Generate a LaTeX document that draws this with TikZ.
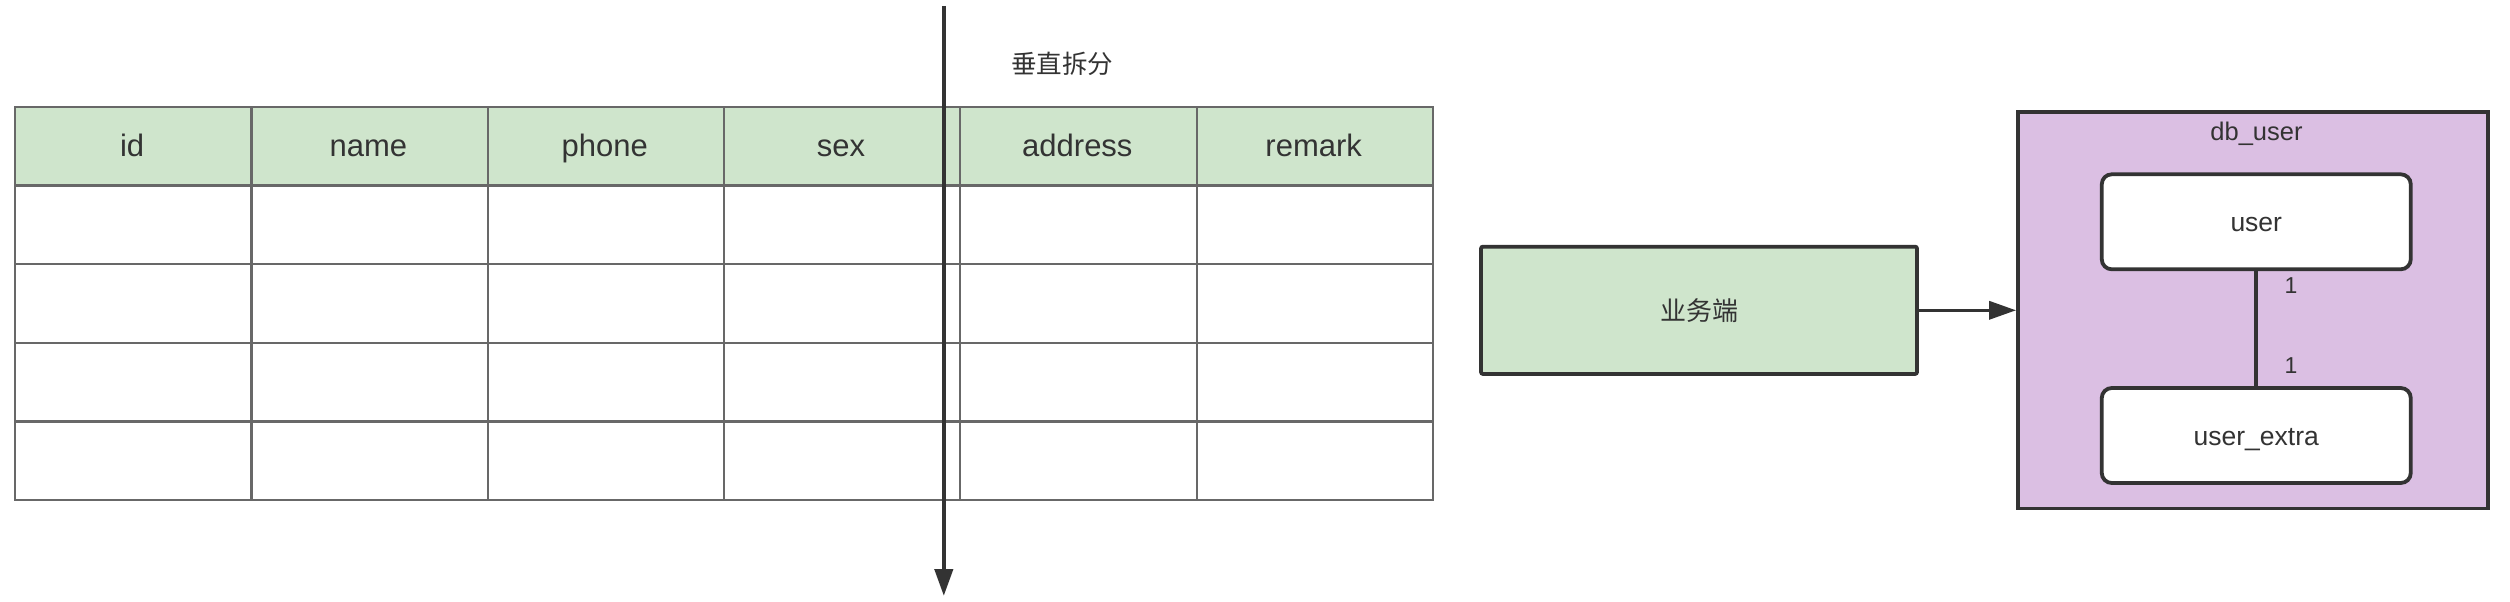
\documentclass[tikz,border=0pt]{standalone}
\usepackage{fontspec}
\setmainfont{Liberation Sans}
\newfontfamily\cjk{Noto Sans CJK SC}
\usetikzlibrary{arrows.meta}
\definecolor{hdrgreen}{HTML}{CFE5CC}
\definecolor{dbpurple}{HTML}{DBBFE3}
\definecolor{ink}{HTML}{333333}
\definecolor{grid}{HTML}{686868}
\tikzset{
  cellbox/.style={draw=grid, line width=2.2pt, minimum width=236.3pt, minimum height=78.66pt, inner sep=0pt, anchor=north west},
  hdrbox/.style={cellbox, fill=hdrgreen},
  bizbox/.style={draw=ink, line width=3.8pt, fill=hdrgreen, rounded corners=2pt, minimum width=436pt, minimum height=127.3pt, inner sep=0pt, text=ink, font=\fontsize{26}{30}\selectfont\cjk},
  dbbox/.style={draw=ink, line width=3.8pt, fill=dbpurple, minimum width=470pt, minimum height=396.5pt, inner sep=0pt},
  tblbox/.style={draw=ink, line width=3.8pt, fill=white, rounded corners=10pt, minimum width=309pt, minimum height=95pt, inner sep=0pt, text=ink, font=\fontsize{26.5}{30}\selectfont, text height=19pt, text depth=0pt},
  lbl/.style={text=ink, inner sep=0pt},
  conn/.style={draw=ink, line width=4pt, -{Triangle[length=27pt,width=18pt]}},
}
\begin{document}
\begin{tikzpicture}[x=1pt, y=-1pt]
\useasboundingbox (0,0) rectangle (2510,602);
% table header
\foreach \t [count=\i from 0] in {id,name,phone,sex,address,remark} {
  \node[hdrbox] (h\i) at ({14+\i*236.3},105.7) {};
  \node[lbl, anchor=base, font=\fontsize{31}{36}\selectfont] (ht\i) at ({14+\i*236.3+118.15},156.3) {\t};
}
% table body
\foreach \r in {1,...,4} {
  \foreach \c in {0,...,5} {
    \node[cellbox] (c\r-\c) at ({14+\c*236.3},{105.7+\r*78.66}) {};
  }
}
% vertical split arrow
\coordinate (vt) at (943.8,6);
\coordinate (vb) at (943.8,596);
\draw[conn, line width=4.3pt] (vt) -- (vb);
\node[lbl, font=\fontsize{25.5}{30}\selectfont\cjk] (split) at (1062,64.3) {垂直拆分};
% business side
\node[bizbox] (biz) at (1699,310.3) {业务端};
% database
\node[dbbox] (db) at (2253,310.25) {};
\node[lbl, anchor=base, font=\fontsize{25.5}{30}\selectfont] (dbl) at (2256.5,140.7) {db\_user};
\node[tblbox] (user) at (2256.25,221.8) {user};
\node[tblbox] (extra) at (2256.25,435.5) {user\_extra};
\draw[draw=ink, line width=3.7pt] (user.south) -- (extra.north);
\node[lbl, font=\fontsize{23}{28}\selectfont] (one1) at (2291,286) {1};
\node[lbl, font=\fontsize{23}{28}\selectfont] (one2) at (2291,365.5) {1};
\draw[conn, line width=3.5pt] (biz.east) -- (biz.east -| db.west);
\end{tikzpicture}
\end{document}
